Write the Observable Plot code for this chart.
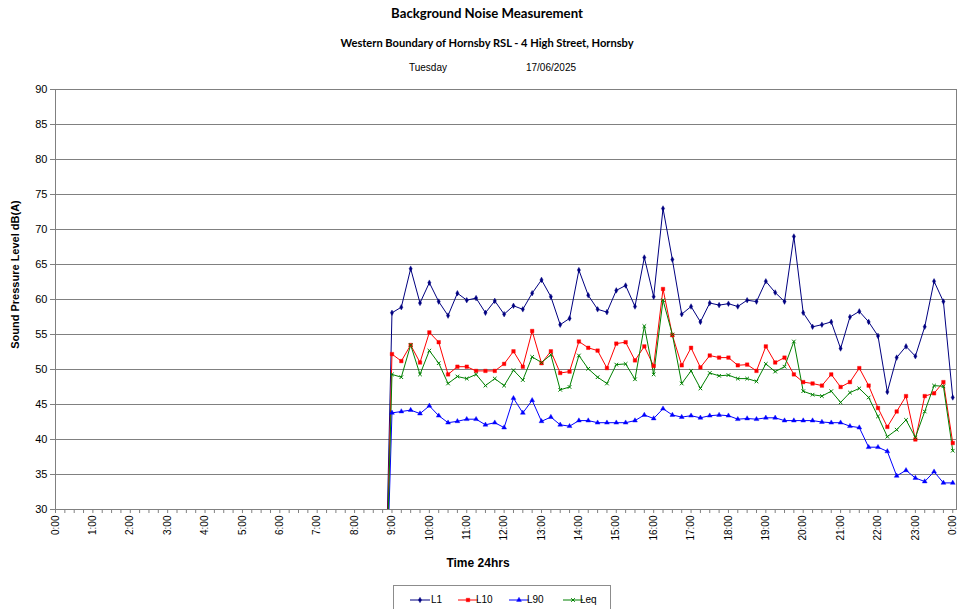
<!DOCTYPE html>
<html><head><meta charset="utf-8">
<script src="https://cdn.jsdelivr.net/npm/d3@7"></script>
<script src="https://cdn.jsdelivr.net/npm/@observablehq/plot@0.6"></script>
<style>
body{margin:0;background:#fff;width:964px;height:609px;overflow:hidden;position:relative;font-family:"Liberation Sans",Arial,sans-serif;}
.t{position:absolute;transform:translate(-50%,-50%);white-space:nowrap;color:#000;}
#title{left:487px;top:13px;font-weight:bold;font-size:13.2px;font-family:Lato,"Liberation Sans",sans-serif;}
#sub{left:487px;top:42px;font-weight:bold;font-size:11.1px;font-family:Lato,"Liberation Sans",sans-serif;}
#day{left:428px;top:67px;font-size:10px;}
#date{left:551px;top:67px;font-size:10px;}
#chart{position:absolute;left:0;top:80px;}
#legend{position:absolute;left:393px;top:585px;width:218px;height:32px;border:1px solid #8c8c8c;box-sizing:border-box;background:#fff;}
.lt{position:absolute;font-size:10px;line-height:10px;top:9px;color:#000;}
</style></head><body>
<div class="t" id="title">Background Noise Measurement</div>
<div class="t" id="sub">Western Boundary of Hornsby RSL - 4 High Street, Hornsby</div>
<div class="t" id="day">Tuesday</div>
<div class="t" id="date">17/06/2025</div>
<div id="chart"></div>
<div id="legend"></div>
<script>
const times = ["8:45",
 "9:00","9:15","9:30","9:45","10:00","10:15","10:30","10:45","11:00","11:15","11:30","11:45",
 "12:00","12:15","12:30","12:45","13:00","13:15","13:30","13:45","14:00","14:15","14:30","14:45",
 "15:00","15:15","15:30","15:45","16:00","16:15","16:30","16:45","17:00","17:15","17:30","17:45",
 "18:00","18:15","18:30","18:45","19:00","19:15","19:30","19:45","20:00","20:15","20:30","20:45",
 "21:00","21:15","21:30","21:45","22:00","22:15","22:30","22:45","23:00","23:15","23:30","23:45","24:00"];

const series = ["L1", "L10", "L90", "Leq"];

const L1 = [0,
 58.1, 58.9, 64.4, 59.5, 62.4, 59.7, 57.7, 60.9, 59.9, 60.2,
 58.1, 59.8, 57.9, 59.1, 58.6, 60.9, 62.8, 60.4, 56.4, 57.3,
 64.2, 60.6, 58.6, 58.2, 61.3, 62.0, 59.0, 66.0, 60.4, 73.0,
 65.7, 57.9, 59.0, 56.8, 59.5, 59.2, 59.4, 59.0, 59.9, 59.7,
 62.6, 61.0, 59.7, 69.0, 58.1, 56.1, 56.4, 56.8, 53.0, 57.5,
 58.3, 56.8, 54.8, 46.8, 51.7, 53.3, 51.9, 56.1, 62.6, 59.7, 46.0];

const L10 = [0,
 52.2, 51.2, 53.5, 51.0, 55.3, 53.9, 49.3, 50.4, 50.4, 49.8,
 49.8, 49.8, 50.8, 52.6, 50.4, 55.5, 50.9, 52.6, 49.5, 49.7,
 54.0, 53.1, 52.7, 50.2, 53.7, 53.9, 51.3, 53.3, 50.5, 61.5,
 54.9, 50.6, 53.1, 50.3, 52.0, 51.7, 51.7, 50.6, 50.7, 49.8,
 53.3, 51.0, 51.7, 49.3, 48.2, 48.0, 47.7, 49.3, 47.5, 48.2,
 50.2, 47.7, 44.5, 41.8, 44.0, 46.2, 40.0, 46.2, 46.6, 48.2, 39.5];

const L90 = [0,
 43.8, 44.0, 44.2, 43.7, 44.8, 43.4, 42.4, 42.6, 42.9, 42.9,
 42.1, 42.4, 41.7, 45.9, 43.8, 45.6, 42.6, 43.2, 42.1, 41.9,
 42.7, 42.7, 42.4, 42.4, 42.4, 42.4, 42.7, 43.5, 43.0, 44.4,
 43.5, 43.2, 43.4, 43.1, 43.4, 43.5, 43.4, 42.9, 43.0, 42.9,
 43.1, 43.1, 42.7, 42.7, 42.7, 42.7, 42.5, 42.4, 42.4, 41.9,
 41.7, 38.9, 38.9, 38.3, 34.8, 35.6, 34.5, 34.0, 35.4, 33.8, 33.8];

const Leq = [0,
 49.3, 48.9, 53.5, 49.3, 52.7, 50.9, 48.0, 49.0, 48.7, 49.3,
 47.7, 48.7, 47.7, 49.9, 48.5, 51.8, 51.0, 52.1, 47.1, 47.5,
 52.0, 50.1, 48.9, 48.0, 50.7, 50.8, 48.6, 56.2, 49.3, 59.9,
 55.0, 48.0, 49.8, 47.3, 49.5, 49.1, 49.2, 48.7, 48.7, 48.3,
 50.8, 49.7, 50.4, 54.0, 46.9, 46.4, 46.2, 46.9, 45.3, 46.7,
 47.3, 46.0, 43.3, 40.4, 41.4, 42.8, 40.3, 44.0, 47.7, 47.6, 38.4];

const yTicks = [30, 35, 40, 45, 50, 55, 60, 65, 70, 75, 80, 85, 90];
const xHourLabels = ["0:00","1:00","2:00","3:00","4:00","5:00","6:00","7:00","8:00","9:00","10:00","11:00",
 "12:00","13:00","14:00","15:00","16:00","17:00","18:00","19:00","20:00","21:00","22:00","23:00","0:00"];

const colors = ["#000080", "#ff0000", "#0000ff", "#008000"];
const symbols = ["diamond", "square", "triangle", "times"];
const radii = [1.7, 2.0, 1.8, 1.8];

const toHours = s => { const [h, m] = s.split(":"); return +h + (+m) / 60; };
const hours = times.map(toHours);
const values = [L1, L10, L90, Leq];
const rows = series.flatMap((s, k) => values[k].map((v, i) => ({s, t: hours[i], v})));
const xTicks = d3.range(0, 24.001, 0.25);

const chart = Plot.plot({
  width: 964, height: 500,
  marginLeft: 55, marginRight: 8, marginTop: 9, marginBottom: 71,
  style: {fontFamily: '"Liberation Sans", Arial, sans-serif', fontSize: "11px", color: "#000", background: "transparent", overflow: "visible"},
  x: {domain: [0, 24.1], ticks: xTicks, tickFormat: d => Number.isInteger(d) ? xHourLabels[d] : "", tickRotate: -90, tickSize: 4, tickPadding: 2, label: null},
  y: {domain: [30, 90], ticks: yTicks, tickSize: 5, tickPadding: 3, label: null},
  color: {domain: series, range: colors},
  marks: [
    Plot.ruleY(yTicks.slice(1, -1), {stroke: "#808080", strokeWidth: 1}),
    Plot.frame({stroke: "#808080"}),
    Plot.line(rows, {x: "t", y: "v", z: "s", stroke: "s", strokeWidth: 1, clip: true}),
    ...series.map((s, k) => Plot.dot(rows.filter(d => d.s === s && d.v >= 30), {
      x: "t", y: "v", symbol: () => symbols[k], r: radii[k],
      fill: symbols[k] === "times" ? "none" : colors[k], stroke: colors[k], strokeWidth: symbols[k] === "times" ? 1 : 0.4
    })),
    Plot.text(["Time 24hrs"], {text: d => d, frameAnchor: "bottom", textAnchor: "middle", lineAnchor: "middle", dx: -28, dy: 54, fontWeight: "bold", fontSize: 12}),
    Plot.text(["Sound Pressure Level dB(A)"], {text: d => d, frameAnchor: "left", textAnchor: "middle", lineAnchor: "middle", dx: -40, dy: -25, rotate: -90, fontWeight: "bold", fontSize: 11})
  ]
});
document.getElementById("chart").appendChild(chart);
const svg = d3.select(chart);
svg.selectAll('g[aria-label^="x-axis"] text').style("font-size", "10px");
svg.selectAll('g[aria-label^="x-axis"] line, g[aria-label^="x-axis"] path, g[aria-label^="y-axis"] line, g[aria-label^="y-axis"] path').attr("stroke", "#808080");

// legend
const leg = d3.select("#legend");
const lineX = [16, 64, 115, 169];
const textX = [37, 82, 133, 186];
series.forEach((s, k) => {
  const sv = leg.append("svg").attr("width", 20).attr("height", 10)
    .style("position", "absolute").style("left", lineX[k] + "px").style("top", "9px");
  sv.append("line").attr("x1", 0).attr("x2", 20).attr("y1", 5).attr("y2", 5).attr("stroke", colors[k]);
  const type = {diamond: d3.symbolDiamond, square: d3.symbolSquare, triangle: d3.symbolTriangle, times: d3.symbolTimes}[symbols[k]];
  sv.append("path").attr("transform", "translate(10,5)")
    .attr("d", d3.symbol(type, Math.PI * radii[k] * radii[k])())
    .attr("fill", symbols[k] === "times" ? "none" : colors[k]).attr("stroke", colors[k])
    .attr("stroke-width", symbols[k] === "times" ? 1 : 0.4);
  leg.append("div").attr("class", "lt").style("left", textX[k] + "px").text(s);
});
</script>
</body></html>
